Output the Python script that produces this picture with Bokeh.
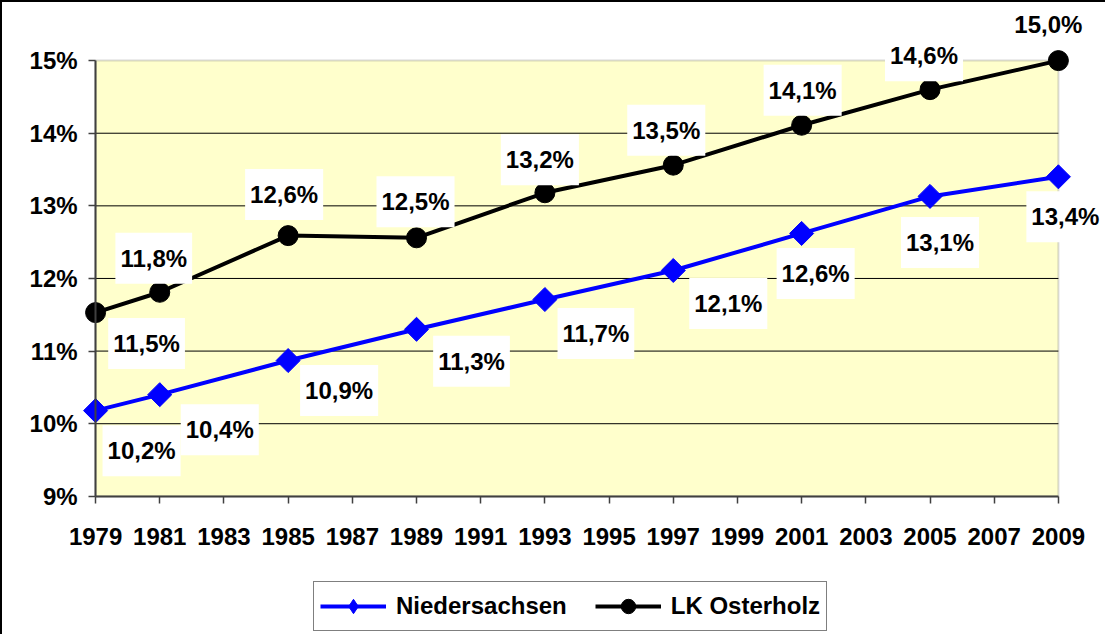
import math
from bokeh.plotting import figure
from bokeh.models import (Range1d, LinearAxis, FixedTicker, PrintfTickFormatter,
                          BoxAnnotation, Label, Legend, LegendItem)
from bokeh.embed import file_html
from bokeh.resources import INLINE

# ---------------- data ----------------
years = [1979, 1981, 1985, 1989, 1993, 1997, 2001, 2005, 2009]
niedersachsen = [10.18, 10.40, 10.87, 11.30, 11.71, 12.11, 12.62, 13.13, 13.40]
niedersachsen_labels = ["10,2%", "10,4%", "10,9%", "11,3%", "11,7%", "12,1%", "12,6%", "13,1%", "13,4%"]
osterholz = [11.53, 11.81, 12.59, 12.56, 13.18, 13.56, 14.11, 14.60, 15.00]
osterholz_labels = ["11,5%", "11,8%", "12,6%", "12,5%", "13,2%", "13,5%", "14,1%", "14,6%", "15,0%"]
x_ticks = [1979, 1981, 1983, 1985, 1987, 1989, 1991, 1993, 1995, 1997, 1999, 2001, 2003, 2005, 2007, 2009]
y_ticks = [9, 10, 11, 12, 13, 14, 15]
series_names = ["Niedersachsen", "LK Osterholz"]

# label placement (screen px, y up)
nied_off = [(46, -40), (60, -35), (51, -30), (55, -32), (51, -34), (55, -33), (14, -40), (10, -46), (7, -40)]
oster_off = [(51, -31), (-6, 34), (-4, 41), (-1, 36), (-5, 33), (-7, 35), (1, 35), (-6, 34), (-10, 36)]

FONT = "Liberation Sans"
BLUE = "#0000FF"
BLACK = "#000000"

# the frame spans the whole figure so that nothing is clipped;
# the visible plot area (1979-2009, 9-15 %) is drawn inside it
p = figure(width=1105, height=634, output_backend="svg", toolbar_location=None,
           x_range=Range1d(1976.10, 2010.53), y_range=Range1d(7.07, 15.80),
           x_axis_location=None, y_axis_location=None,
           min_border_left=0, min_border_right=0, min_border_top=0, min_border_bottom=0)
p.styles = {"border-left": "2px solid #000000", "border-top": "2px solid #000000"}
p.background_fill_color = "white"
p.border_fill_color = "white"
p.outline_line_color = None
p.xgrid.visible = False
p.ygrid.visible = False

# plot area
p.add_layout(BoxAnnotation(left=x_ticks[0], right=x_ticks[-1], bottom=y_ticks[0], top=y_ticks[-1],
                           fill_color="#FFFFCC", fill_alpha=1.0, line_color="#808080",
                           line_width=2, level="underlay"))
inner = y_ticks[1:-1]
p.segment(x0=[x_ticks[0]] * len(inner), y0=inner, x1=[x_ticks[-1]] * len(inner), y1=inner,
          line_color="#000000", line_width=1)

# axes
yax = LinearAxis(fixed_location=x_ticks[0], bounds=(y_ticks[0], y_ticks[-1]),
                 ticker=FixedTicker(ticks=y_ticks), formatter=PrintfTickFormatter(format="%d%%"))
xax = LinearAxis(fixed_location=y_ticks[0], bounds=(x_ticks[0], x_ticks[-1]),
                 ticker=FixedTicker(ticks=x_ticks))
for ax in (xax, yax):
    ax.axis_line_color = "#404040"
    ax.axis_line_width = 2
    ax.major_tick_line_color = "#404040"
    ax.major_tick_line_width = 1.5
    ax.major_tick_out = 7
    ax.major_tick_in = 0
    ax.minor_tick_line_color = None
    ax.major_label_text_font = FONT
    ax.major_label_text_font_style = "bold"
    ax.major_label_text_font_size = "24px"
    ax.major_label_text_color = "black"
yax.major_label_standoff = 11
xax.major_label_standoff = 25
p.add_layout(yax, "left")
p.add_layout(xax, "below")

# series
l1 = p.line(years, niedersachsen, line_color=BLUE, line_width=4)
# legend shape for the series (hidden beneath the first plotted marker)
lg1 = p.scatter(years[:1], niedersachsen[:1], marker="diamond", size=14,
                fill_color=BLUE, line_color=BLUE)
s1 = p.scatter(years, niedersachsen, marker="square", angle=math.pi / 4, size=17,
               fill_color=BLUE, line_color=BLUE)
l2 = p.line(years, osterholz, line_color=BLACK, line_width=4)
lg2 = p.scatter(years[:1], osterholz[:1], marker="circle", size=13,
                fill_color=BLACK, line_color=BLACK)
s2 = p.scatter(years, osterholz, marker="circle", size=20, fill_color=BLACK, line_color=BLACK)

# data labels
def add_labels(xs, ys, texts, offs):
    for x, y, t, (dx, dy) in zip(xs, ys, texts, offs):
        p.add_layout(Label(x=x, y=y, text=t, x_offset=dx, y_offset=dy,
                           text_align="center", text_baseline="middle",
                           text_font=FONT, text_font_style="bold", text_font_size="24px",
                           text_color="black", background_fill_color="white",
                           background_fill_alpha=1.0,
                           padding=dict(left=5, right=5, top=12, bottom=12)))

add_labels(years, niedersachsen, niedersachsen_labels, nied_off)
add_labels(years, osterholz, osterholz_labels, oster_off)

legend = Legend(items=[LegendItem(label=series_names[0], renderers=[l1, lg1]),
                       LegendItem(label=series_names[1], renderers=[l2, lg2])],
                location=(311, 5), orientation="horizontal",
                label_text_font=FONT, label_text_font_style="bold", label_text_font_size="24px",
                label_text_color="black",
                glyph_width=66, glyph_height=36, label_height=36, label_standoff=10,
                spacing=28, padding=6, margin=0,
                border_line_color="black", border_line_width=1.5,
                background_fill_color="white", background_fill_alpha=1.0)
p.add_layout(legend, "center")

open("out.html", "w").write(file_html(p, INLINE))
